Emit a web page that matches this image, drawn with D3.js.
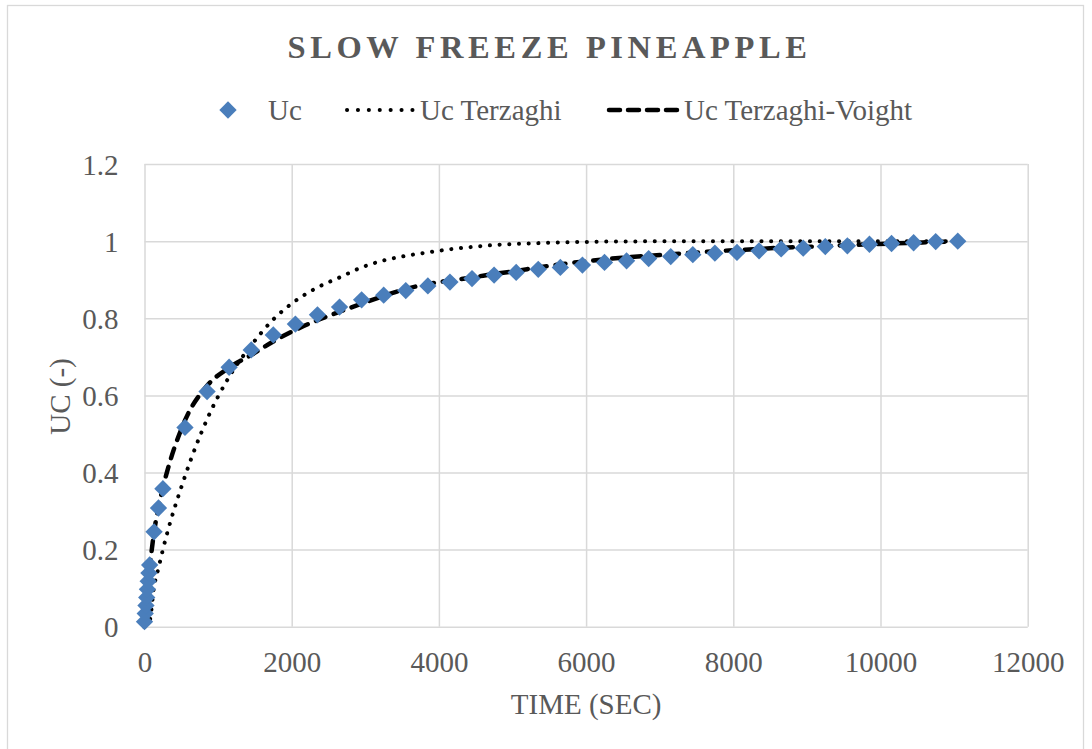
<!DOCTYPE html>
<html>
<head>
<meta charset="utf-8">
<script src="https://cdn.jsdelivr.net/npm/d3@7"></script>
<style>
  html, body { margin: 0; padding: 0; background: #fff; }
  svg { display: block; }
  text { font-family: "Liberation Serif", "Times New Roman", serif; fill: #595959; }
</style>
</head>
<body>
<svg id="chart" width="1092" height="749"></svg>
<script>
// ---- data ----
const timeSec = [0, 10, 20, 30, 40, 50, 60, 70, 130, 190, 250,
  550, 850, 1150, 1450, 1750, 2050, 2350, 2650, 2950, 3250, 3550, 3850, 4150, 4450,
  4750, 5050, 5350, 5650, 5950, 6250, 6550, 6850, 7150, 7450, 7750, 8050, 8350, 8650,
  8950, 9250, 9550, 9850, 10150, 10450, 10750, 11050];

const ucMeasured = [0.013, 0.034, 0.055, 0.076, 0.097, 0.118, 0.139, 0.16, 0.246, 0.308, 0.358,
  0.517, 0.61, 0.673, 0.718, 0.757, 0.785, 0.809, 0.829, 0.848, 0.860, 0.872, 0.884, 0.894, 0.903,
  0.912, 0.919, 0.927, 0.932, 0.938, 0.945, 0.949, 0.955, 0.960, 0.965, 0.969, 0.971, 0.975, 0.980,
  0.982, 0.986, 0.988, 0.992, 0.994, 0.996, 0.999, 1.0];

const ucTerzaghi = [0, 0.002, 0.004, 0.006, 0.008, 0.010, 0.012, 0.015, 0.104, 0.152, 0.200,
  0.390, 0.538, 0.648, 0.730, 0.797, 0.845, 0.880, 0.906, 0.932, 0.950, 0.962, 0.971, 0.979, 0.985,
  0.990, 0.993, 0.995, 0.997, 0.998, 0.999, 0.999, 1.0, 1.0, 1.0, 1.0, 1.0, 1.0, 1.0,
  1.0, 1.0, 1.0, 1.0, 1.0, 1.0, 1.0, 1.0];

const ucTerzaghiVoight = [0, 0.03, 0.05, 0.07, 0.09, 0.11, 0.13, 0.15, 0.245, 0.31, 0.36,
  0.535, 0.625, 0.672, 0.705, 0.740, 0.770, 0.795, 0.817, 0.838, 0.858, 0.876, 0.889, 0.898, 0.906,
  0.915, 0.923, 0.932, 0.940, 0.947, 0.953, 0.958, 0.962, 0.966, 0.970, 0.974, 0.977, 0.980, 0.983,
  0.985, 0.987, 0.990, 0.992, 0.994, 0.996, 0.998, 1.0];

const xTicks = [0, 2000, 4000, 6000, 8000, 10000, 12000];
const yTicks = [0, 0.2, 0.4, 0.6, 0.8, 1, 1.2];
const seriesNames = ["Uc", "Uc Terzaghi", "Uc Terzaghi-Voight"];
const chartTitle = "SLOW FREEZE PINEAPPLE";
const xTitle = "TIME (SEC)";
const yTitle = "UC (-)";

// ---- layout ----
const svg = d3.select("#chart");
const plot = { left: 144.5, right: 1027.7, top: 164.1, bottom: 626.7 };
const x = d3.scaleLinear().domain([0, 12000]).range([plot.left, plot.right]);
const y = d3.scaleLinear().domain([0, 1.2]).range([plot.bottom, plot.top]);
const grey = "#595959";
const gridCol = "#d9d9d9";
const blue = "#4a7ebb";

// chart border
svg.append("rect").attr("x", 7.5).attr("y", 5.5).attr("width", 1076).attr("height", 780)
  .attr("fill", "none").attr("stroke", gridCol).attr("stroke-width", 1.3);

// gridlines via axes
const gx = svg.append("g").attr("transform", `translate(0,${plot.bottom})`)
  .call(d3.axisBottom(x).tickValues(xTicks).tickSize(-(plot.bottom - plot.top)).tickFormat(d3.format("d")));
gx.select(".domain").remove();
gx.selectAll("line").attr("stroke", gridCol).attr("stroke-width", 1.5);
gx.selectAll("text").attr("y", 45).attr("dy", null).attr("font-size", 29)
  .style("font-family", '"Liberation Serif", serif').attr("fill", grey);

const gy = svg.append("g").attr("transform", `translate(${plot.left},0)`)
  .call(d3.axisLeft(y).tickValues(yTicks).tickSize(-(plot.right - plot.left)).tickFormat(d3.format("")));
gy.select(".domain").remove();
gy.selectAll("line").attr("stroke", gridCol).attr("stroke-width", 1.5);
gy.selectAll("text").attr("x", -26).attr("dy", "0.35em").attr("font-size", 29)
  .style("font-family", '"Liberation Serif", serif').attr("fill", grey);

// lines
const pts = (vals) => timeSec.map((t, i) => [t, vals[i]]);
const line = d3.line().x(d => x(d[0])).y(d => y(d[1])).curve(d3.curveMonotoneX);

svg.append("path").datum(pts(ucTerzaghi)).attr("d", line)
  .attr("fill", "none").attr("stroke", "#000").attr("stroke-width", 4)
  .attr("stroke-linecap", "round").attr("stroke-dasharray", "0.1 9.6");

svg.append("path").datum(pts(ucTerzaghiVoight)).attr("d", line)
  .attr("fill", "none").attr("stroke", "#000").attr("stroke-width", 4.5)
  .attr("stroke-linecap", "round").attr("stroke-dasharray", "10 9");

// markers (diamonds)
const diamond = d3.symbol().type(d3.symbolSquare).size(150);
svg.append("g").selectAll("path").data(pts(ucMeasured)).join("path")
  .attr("d", diamond)
  .attr("transform", d => `translate(${x(d[0])},${y(d[1])}) rotate(45)`)
  .attr("fill", blue);

// title
svg.append("text").attr("x", 549.5).attr("y", 58).attr("text-anchor", "middle")
  .attr("font-size", 32.5).attr("font-weight", "bold").attr("letter-spacing", 4.6)
  .text(chartTitle);

// axis titles
svg.append("text").attr("x", (plot.left + plot.right) / 2).attr("y", 714)
  .attr("text-anchor", "middle").attr("font-size", 29).text(xTitle);
svg.append("text").attr("transform", "translate(70,396.5) rotate(-90)")
  .attr("text-anchor", "middle").attr("font-size", 29).text(yTitle);

// legend
const ly = 110;
const leg = svg.append("g");
leg.append("path").attr("d", diamond).attr("transform", `translate(228,${ly}) rotate(45)`).attr("fill", blue);
leg.append("text").attr("x", 268).attr("y", ly).attr("dy", "0.35em").attr("font-size", 29).text(seriesNames[0]);
leg.append("line").attr("x1", 347).attr("x2", 413).attr("y1", ly).attr("y2", ly)
  .attr("stroke", "#000").attr("stroke-width", 4).attr("stroke-linecap", "round").attr("stroke-dasharray", "0.1 10.8");
leg.append("text").attr("x", 420).attr("y", ly).attr("dy", "0.35em").attr("font-size", 29).text(seriesNames[1]);
leg.append("line").attr("x1", 609).attr("x2", 679).attr("y1", ly).attr("y2", ly)
  .attr("stroke", "#000").attr("stroke-width", 4.5).attr("stroke-linecap", "round").attr("stroke-dasharray", "11 8");
leg.append("text").attr("x", 684).attr("y", ly).attr("dy", "0.35em").attr("font-size", 29).text(seriesNames[2]);
</script>
</body>
</html>
